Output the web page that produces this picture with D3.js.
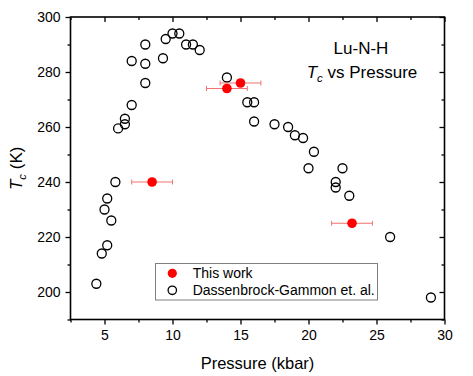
<!DOCTYPE html>
<html>
<head>
<meta charset="utf-8">
<script src="https://cdn.jsdelivr.net/npm/d3@7"></script>
<style>
  body { margin: 0; background: #fff; }
  svg { font-family: "Liberation Sans", Arial, sans-serif; }
</style>
</head>
<body>
<div id="chart"></div>
<script>
// Dassenbrock-Gammon et. al. (open circles)
const dgPressure = [4.4, 4.8, 5.2, 5.5, 5.0, 5.2, 5.8, 6.0, 6.5, 6.5, 7.0, 7.0, 8.0, 8.0, 8.0,
  9.3, 9.5, 10.0, 10.5, 11.0, 11.5, 12.0, 14.0, 15.5, 16.0, 16.0, 17.5, 18.5, 19.0, 19.6,
  20.4, 20.0, 22.5, 22.0, 22.0, 23.0, 26.0, 29.0];
const dgTc = [203, 214, 217, 226, 230, 234, 240, 259.5, 261, 263, 268, 284, 276, 283, 290,
  285, 292, 294, 294, 290, 290, 288, 278, 269, 269, 262, 261, 260, 257, 256,
  251, 245, 245, 240, 238, 235, 220, 198];

// This work (filled red, with pressure error bars)
const twPressure = [8.5, 14.0, 15.0, 23.2];
const twTc = [240, 274, 276, 225];
const twErr = [1.5, 1.5, 1.5, 1.5];

const xMajor = [5, 10, 15, 20, 25, 30];
const xMinor = [2.5, 7.5, 12.5, 17.5, 22.5, 27.5];
const yMajor = [200, 220, 240, 260, 280, 300];
const yMinor = [190, 210, 230, 250, 270, 290];

const W = 473, H = 376;
const margin = { top: 17, right: 28.5, bottom: 56.5, left: 70.5 };

const svg = d3.select("#chart").append("svg")
  .attr("width", W)
  .attr("height", H);

const x = d3.scaleLinear().domain([2.5, 30]).range([margin.left, W - margin.right]);
const y = d3.scaleLinear().domain([190, 300]).range([H - margin.bottom, margin.top]);

const x0 = margin.left, x1 = W - margin.right;
const y0 = H - margin.bottom, y1 = margin.top;

function styleAxis(g) {
  g.select(".domain").remove();
  g.selectAll(".tick line").attr("stroke", "#000").attr("stroke-width", 1.3);
  g.selectAll(".tick text").attr("fill", "#000").style("font-size", "14px")
    .style("font-family", '"Liberation Sans", Arial, sans-serif');
}

// bottom
svg.append("g").attr("transform", `translate(0,${y0})`)
  .call(d3.axisBottom(x).tickValues(xMajor).tickSize(5).tickPadding(6).tickFormat(d3.format("d")))
  .call(styleAxis);
svg.append("g").attr("transform", `translate(0,${y0})`)
  .call(d3.axisBottom(x).tickValues(xMinor).tickSize(3).tickFormat(""))
  .call(styleAxis);
// top (inward)
svg.append("g").attr("transform", `translate(0,${y1})`)
  .call(d3.axisBottom(x).tickValues(xMajor).tickSize(5).tickFormat(""))
  .call(styleAxis);
svg.append("g").attr("transform", `translate(0,${y1})`)
  .call(d3.axisBottom(x).tickValues(xMinor).tickSize(3).tickFormat(""))
  .call(styleAxis);
// left
svg.append("g").attr("transform", `translate(${x0},0)`)
  .call(d3.axisLeft(y).tickValues(yMajor).tickSize(5).tickPadding(5))
  .call(styleAxis);
svg.append("g").attr("transform", `translate(${x0},0)`)
  .call(d3.axisLeft(y).tickValues(yMinor).tickSize(3).tickFormat(""))
  .call(styleAxis);
// right (inward)
svg.append("g").attr("transform", `translate(${x1},0)`)
  .call(d3.axisLeft(y).tickValues(yMajor).tickSize(5).tickFormat(""))
  .call(styleAxis);
svg.append("g").attr("transform", `translate(${x1},0)`)
  .call(d3.axisLeft(y).tickValues(yMinor).tickSize(3).tickFormat(""))
  .call(styleAxis);

// frame
svg.append("rect")
  .attr("x", x0).attr("y", y1)
  .attr("width", x1 - x0).attr("height", y0 - y1)
  .attr("fill", "none").attr("stroke", "#000").attr("stroke-width", 1.6);

// open circles
svg.append("g").selectAll("circle")
  .data(dgPressure.map((p, i) => [p, dgTc[i]]))
  .join("circle")
  .attr("cx", d => x(d[0]))
  .attr("cy", d => y(d[1]))
  .attr("r", 4.5)
  .attr("fill", "none")
  .attr("stroke", "#000")
  .attr("stroke-width", 1.3);

// error bars
const tw = twPressure.map((p, i) => ({ p: p, t: twTc[i], e: twErr[i] }));
const eb = svg.append("g").attr("stroke", "#f47272").attr("stroke-width", 1);
eb.selectAll(".bar").data(tw).join("line")
  .attr("x1", d => x(d.p - d.e)).attr("x2", d => x(d.p + d.e))
  .attr("y1", d => y(d.t)).attr("y2", d => y(d.t));
eb.selectAll(".capl").data(tw).join("line")
  .attr("x1", d => x(d.p - d.e)).attr("x2", d => x(d.p - d.e))
  .attr("y1", d => y(d.t) - 2.5).attr("y2", d => y(d.t) + 2.5);
eb.selectAll(".capr").data(tw).join("line")
  .attr("x1", d => x(d.p + d.e)).attr("x2", d => x(d.p + d.e))
  .attr("y1", d => y(d.t) - 2.5).attr("y2", d => y(d.t) + 2.5);

svg.append("g").selectAll("circle")
  .data(tw)
  .join("circle")
  .attr("cx", d => x(d.p))
  .attr("cy", d => y(d.t))
  .attr("r", 4.8)
  .attr("fill", "#ff0000");

// axis titles
svg.append("text")
  .attr("x", (x0 + x1) / 2).attr("y", 369)
  .attr("text-anchor", "middle")
  .style("font-size", "16.5px")
  .text("Pressure (kbar)");

const yt = svg.append("text")
  .attr("transform", `translate(22,${(y0 + y1) / 2}) rotate(-90)`)
  .attr("text-anchor", "middle")
  .style("font-size", "17px");
yt.append("tspan").attr("font-style", "italic").text("T");
yt.append("tspan").attr("font-style", "italic").attr("dy", 4).style("font-size", "11.5px").text("c");
yt.append("tspan").attr("dy", -4).text(" (K)");

// title
svg.append("text")
  .attr("x", 361).attr("y", 54)
  .attr("text-anchor", "middle")
  .style("font-size", "17px")
  .text("Lu-N-H");
const tt = svg.append("text")
  .attr("x", 362).attr("y", 77.5)
  .attr("text-anchor", "middle")
  .style("font-size", "17px");
tt.append("tspan").attr("font-style", "italic").text("T");
tt.append("tspan").attr("font-style", "italic").attr("dy", 4).style("font-size", "11.5px").text("c");
tt.append("tspan").attr("dy", -4).text(" vs Pressure");

// legend
const lg = svg.append("g");
lg.append("rect")
  .attr("x", 155.5).attr("y", 263.5)
  .attr("width", 222).attr("height", 36.5)
  .attr("fill", "#fff").attr("stroke", "#808080").attr("stroke-width", 1);
lg.append("circle").attr("cx", 172.3).attr("cy", 273.3).attr("r", 4.6).attr("fill", "#ff0000");
lg.append("circle").attr("cx", 172.3).attr("cy", 290.3).attr("r", 4.2)
  .attr("fill", "none").attr("stroke", "#000").attr("stroke-width", 1.3);
lg.append("text").attr("x", 192.7).attr("y", 278).style("font-size", "14px").text("This work");
lg.append("text").attr("x", 192.7).attr("y", 295).style("font-size", "14px").text("Dassenbrock-Gammon et. al.");
</script>
</body>
</html>
